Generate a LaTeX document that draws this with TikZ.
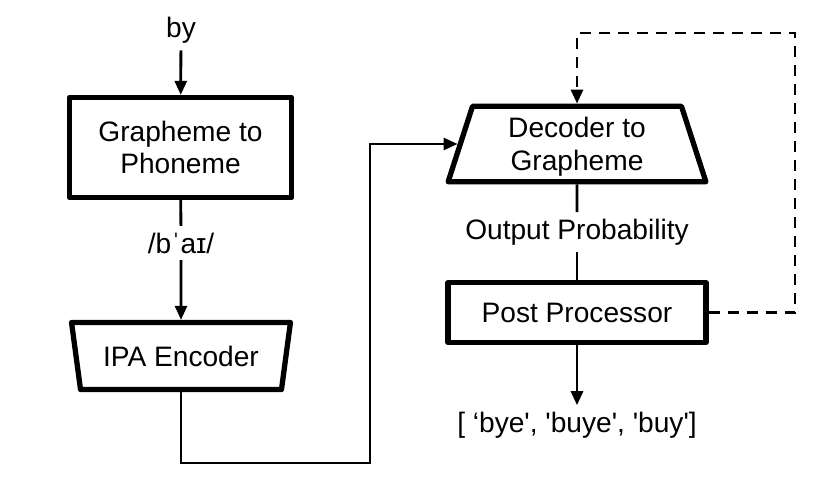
\documentclass[tikz,border=0pt]{standalone}
\usepackage{fontspec}
\setmainfont{Liberation Sans}
\usetikzlibrary{arrows.meta,shapes.geometric}

\begin{document}
\begin{tikzpicture}[>={Triangle[length=0.28cm,width=0.24cm]},
  font=\fontsize{16}{18.6}\selectfont,line width=1.6pt,
  blk/.style={draw,line width=3pt,line join=round,align=center,fill=white},
  enc/.style={blk,trapezium,trapezium stretches=true,
    trapezium left angle=77,trapezium right angle=77},
  lbl/.style={inner sep=3pt}]
  \useasboundingbox (0,0) rectangle (16.6,9.9);
  % 输入
  \node (by) at (3.62,9.3) {by};
  % 字形到音素
  \node[blk,minimum width=4.44cm,minimum height=2cm] (g2p) at (3.61,6.95)
    {Grapheme to\\Phoneme};
  \draw[->] (by) -- (g2p);
  % 音标
  \node[lbl] (ipa) at (3.62,5.04) {/bˈaɪ/};
  \draw (g2p) -- (ipa);
  % IPA 编码器
  \node[enc,shape border rotate=180,minimum width=4.38cm,minimum height=1.34cm]
    (enc) at (3.62,2.78) {IPA Encoder};
  \draw[->] (ipa) -- (enc);
  % 解码器
  \node[enc,minimum width=5.16cm,minimum height=1.34cm] (dec) at (11.54,7.02)
    {\\[-0.15cm]Decoder to\\Grapheme};
  \coordinate (low) at (7.4,0.64);
  \draw[->] (enc.south) |- (low) |- (dec.west);
  % 输出概率
  \node[lbl] (prob) at (11.54,5.26) {Output Probability};
  \draw (dec) -- (prob);
  % 后处理
  \node[blk,minimum width=5.16cm,minimum height=1.2cm] (post) at (11.54,3.65)
    {Post Processor};
  \draw (prob) -- (post);
  % 反馈
  \coordinate (back) at (15.9,9.24);
  \draw[->,dash pattern=on 0.22cm off 0.16cm] (post.east) -| (back) -| (dec.north);
  % 结果
  \node[lbl] (out) at (11.54,1.4)
    {[ ‘bye\textquotesingle, \textquotesingle buye\textquotesingle, \textquotesingle buy\textquotesingle]};
  \draw[->] (post) -- (out);
\end{tikzpicture}
\end{document}
